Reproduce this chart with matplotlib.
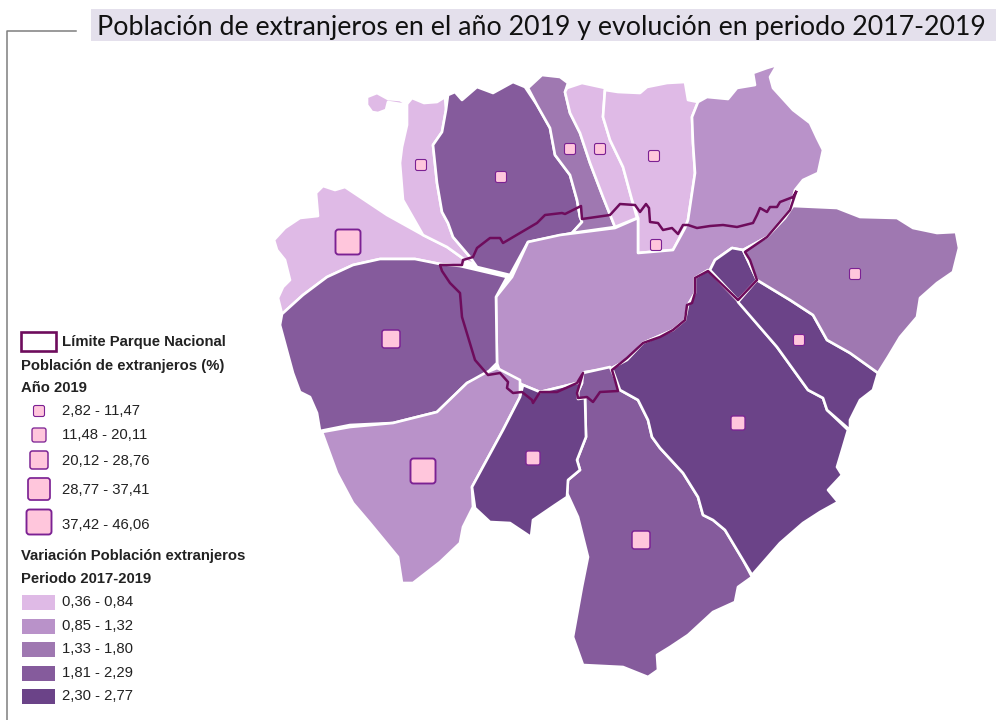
import matplotlib
matplotlib.use("Agg")
import matplotlib.pyplot as plt
from matplotlib.patches import Polygon, Rectangle, FancyBboxPatch

TITLE = "Población de extranjeros en el año 2019 y evolución en periodo 2017-2019"
PARK_LABEL = "Límite Parque Nacional"
POP_HEAD = ["Población de extranjeros (%)", "Año 2019"]
POP_LABELS = ["2,82 - 11,47", "11,48 - 20,11", "20,12 - 28,76", "28,77 - 37,41", "37,42 - 46,06"]
VAR_HEAD = ["Variación Población extranjeros", "Periodo 2017-2019"]
VAR_LABELS = ["0,36 - 0,84", "0,85 - 1,32", "1,33 - 1,80", "1,81 - 2,29", "2,30 - 2,77"]
VAR_COLORS = ["#dfbae6", "#b992c9", "#9f78b1", "#855b9c", "#6b4388"]
SYM_SIZES = [11, 14, 18, 22, 25]

# Region outlines (map units = reference pixels) and variation class
west_nw = [(274,240),(285,228),(300,218),(318,216),(316,193),(323,186),(335,190),(345,187),(360,197),(387,215),(423,235),(447,247),(468,262),(460,266),(440,264),(415,259),(380,259),(353,265),(327,277),(303,295),(282,314),(278,298),(283,287),(290,280),(285,260),(277,250)]
north_w = [(367,97),(377,93),(388,99),(400,100),(407,104),(412,98),(424,103),(437,102),(445,97),(446,110),(442,132),(433,145),(437,183),(442,212),(448,223),(453,237),(470,257),(482,270),(510,276),(468,262),(447,247),(423,235),(403,200),(400,163),(402,147),(407,125),(407,105),(388,102),(386,110),(378,113),(372,112),(367,105)]
north_c = [(448,95),(455,92),(462,100),(477,87),(493,93),(513,82),(525,87),(537,105),(550,128),(555,155),(570,175),(577,200),(580,217),(582,222),(572,233),(528,242),(510,275),(477,267),(470,257),(453,237),(448,223),(442,212),(437,183),(433,145),(442,132),(446,110)]
strip_n = [(528,88),(542,75),(560,77),(568,83),(565,92),(570,113),(580,133),(590,163),(603,197),(615,227),(572,233),(582,222),(580,217),(577,200),(570,175),(555,155),(550,128),(537,105)]
strip_l = [(567,88),(582,83),(605,88),(603,117),(610,140),(623,167),(632,200),(637,218),(615,227),(603,197),(590,163),(580,133),(570,113),(565,92)]
north_l = [(605,90),(618,92),(640,93),(647,87),(667,83),(685,82),(688,100),(698,102),(692,117),(693,143),(695,173),(688,220),(685,228),(673,250),(638,253),(638,218),(632,200),(623,167),(610,140),(603,117)]
central = [(528,242),(560,235),(615,228),(638,218),(638,253),(673,250),(685,228),(688,220),(695,173),(693,143),(692,117),(698,102),(707,97),(728,99),(737,88),(755,85),(753,73),(767,68),(777,65),(770,77),(773,88),(793,110),(810,123),(817,138),(823,150),(818,173),(803,180),(795,190),(790,210),(767,237),(743,250),(732,248),(715,260),(710,270),(695,278),(695,293),(688,305),(685,320),(673,330),(643,343),(627,360),(612,368),(585,372),(583,382),(577,383),(540,392),(523,385),(500,372),(497,363),(496,297),(512,277)]
south_l = [(583,373),(610,367),(620,390),(638,400),(648,420),(652,437),(660,448),(683,473),(698,497),(703,515),(713,520),(725,530),(743,560),(752,577),(738,587),(735,602),(713,612),(688,635),(670,647),(657,655),(658,670),(648,677),(623,667),(583,665),(573,637),(582,587),(588,557),(578,517),(567,493),(568,480),(580,470),(577,460),(586,437),(585,398),(578,399),(578,392),(582,383)]
south_e = [(708,270),(737,300),(777,347),(808,390),(823,398),(827,410),(848,430),(843,447),(837,467),(842,475),(828,490),(838,502),(820,512),(803,523),(780,543),(752,575),(743,560),(725,530),(713,520),(703,515),(698,497),(683,473),(660,448),(652,437),(648,420),(638,400),(620,390),(612,368),(627,360),(643,343),(673,330),(685,320),(688,305),(695,293),(695,278)]
east_s = [(757,280),(790,300),(813,315),(827,340),(850,353),(878,373),(873,390),(860,400),(850,420),(850,430),(827,410),(823,398),(808,390),(777,347),(738,302)]
knot = [(743,250),(757,280),(738,300),(710,270),(715,260),(732,248)]
east = [(793,206),(837,208),(860,217),(897,218),(913,228),(937,233),(956,232),(959,248),(953,272),(937,283),(920,298),(917,317),(900,337),(888,357),(878,373),(850,353),(827,340),(813,315),(790,300),(757,280),(743,250),(767,237),(785,218)]
west = [(282,314),(303,295),(327,277),(353,265),(380,259),(415,259),(440,264),(460,266),(507,277),(496,297),(497,363),(485,375),(467,383),(437,412),(393,423),(350,425),(320,431),(317,413),(310,397),(300,392),(293,373),(280,325)]
south_w = [(322,432),(350,427),(393,423),(437,412),(467,383),(485,373),(497,368),(520,380),(520,397),(503,430),(472,487),(473,507),(463,527),(460,543),(440,562),(413,583),(402,583),(398,557),(370,523),(353,503),(337,473)]
south_c = [(520,397),(523,385),(540,392),(577,383),(582,383),(578,392),(578,399),(585,398),(586,437),(577,460),(580,470),(568,480),(567,497),(555,505),(533,520),(531,537),(510,523),(490,522),(475,508),(472,487),(503,430)]

REGIONS = [(west_nw,0),(north_w,0),(north_c,3),(strip_n,2),(strip_l,0),(north_l,0),(central,1),
           (south_l,3),(south_e,4),(east_s,4),(knot,4),(east,2),(west,3),(south_w,1),(south_c,4)]

park_line = [(796,192),(793,197),(780,202),(777,207),(770,207),(767,212),(760,208),(757,215),(753,223),(737,227),(723,225),(710,226),(697,228),(688,225),(683,225),(678,234),(672,228),(663,230),(658,223),(650,222),(649,208),(646,204),(640,212),(635,205),(620,204),(610,215),(582,219),(581,206),(565,214),(562,213),(545,215),(537,223),(503,243),(500,238),(490,238),(477,248),(473,257),(463,260),(462,265),(440,265),(442,271),(450,283),(460,293),(462,317),(475,360),(488,375),(500,373),(508,382),(507,388),(513,393),(522,392),(532,400),(533,403),(540,392),(557,392),(577,383),(583,373),(577,393),(578,398),(587,397),(593,402),(600,392),(618,391),(615,380),(612,370),(627,358),(643,343),(660,337),(673,330),(685,320),(687,305),(692,303),(695,293),(695,278),(708,271),(738,300),(757,280),(750,260),(745,252),(767,237),(790,210),(796,192)]

# Symbols: x, y on the map and class of foreign population share
sym_x = [348,421,501,570,600,654,656,855,799,391,423,533,738,641]
sym_y = [242,165,177,149,149,156,245,274,340,339,471,458,423,540]
sym_class = [4,0,0,0,0,0,0,0,0,2,4,1,1,2]

fig = plt.figure(figsize=(9.96, 7.2), dpi=100)
ax = fig.add_axes([0, 0, 1, 1])
ax.set_xlim(0, 996); ax.set_ylim(720, 0); ax.axis("off")

# Frame line and title
ax.add_patch(Rectangle((91, 9), 905, 32, fc="#e4e0ec", ec="none"))
ax.plot([76, 7, 7], [31, 31, 720], color="#7f7f7f", lw=1.1)
ax.text(97, 28, TITLE, family="Lato", fontsize=19.3, va="center", ha="left", color="#111111")

for pts, c in REGIONS:
    ax.add_patch(Polygon(pts, closed=True, fc=VAR_COLORS[c], ec="white", lw=1.9, joinstyle="round", zorder=2))
px, py = zip(*park_line)
ax.plot(px, py, color="#6e0c5c", lw=1.8, zorder=3, solid_joinstyle="round")

def square(x, y, s, z=4):
    lw = 0.8 + (s - 11) * 0.04
    ax.add_patch(FancyBboxPatch((x - s/2 + 1, y - s/2 + 1), s - 2, s - 2,
                                boxstyle="round,pad=1,rounding_size=%.1f" % (1 + s * 0.08),
                                fc="#ffc6dc", ec="#7b2193", lw=lw, zorder=z))

for x, y, c in zip(sym_x, sym_y, sym_class):
    square(x, y, SYM_SIZES[c])

# Legend
LF = dict(family="Liberation Sans", fontsize=10.75, va="center", color="#222222")
ax.add_patch(Rectangle((21, 332), 35, 19, fc="white", ec="#6e0c5c", lw=1.9, zorder=4))
ax.text(62, 342, PARK_LABEL, fontweight="bold", **LF)
ax.text(21, 366, POP_HEAD[0], fontweight="bold", **LF)
ax.text(21, 388, POP_HEAD[1], fontweight="bold", **LF)
pop_y = [411, 435, 461, 490, 525]
sym_ly = [411, 435, 460, 489, 522]
for lab, y, sy, s in zip(POP_LABELS, pop_y, sym_ly, SYM_SIZES):
    square(39, sy, s)
    ax.text(62, y, lab, **LF)
ax.text(21, 556, VAR_HEAD[0], fontweight="bold", **LF)
ax.text(21, 579, VAR_HEAD[1], fontweight="bold", **LF)
var_y = [602, 626, 649, 673, 696]
for lab, y, col in zip(VAR_LABELS, var_y, VAR_COLORS):
    ax.add_patch(Rectangle((22, y - 7.5), 33, 15, fc=col, ec="none"))
    ax.text(62, y, lab, **LF)

fig.savefig("out.png", dpi=100)
